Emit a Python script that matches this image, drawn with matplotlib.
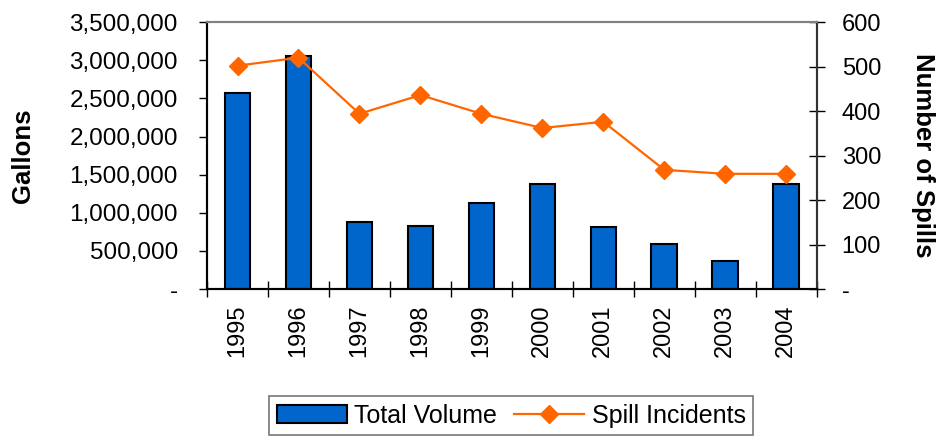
import matplotlib.pyplot as plt
import numpy as np
from matplotlib.ticker import FuncFormatter, MultipleLocator

plt.rcParams['font.family'] = ['Liberation Sans', 'DejaVu Sans']

years = ['1995', '1996', '1997', '1998', '1999', '2000', '2001', '2002', '2003', '2004']
total_volume = [2570000, 3060000, 885000, 833000, 1132000, 1372000, 810000, 587000, 372000, 1372000]
spill_incidents = [502, 520, 394, 436, 394, 362, 376, 268, 259, 259]

bar_color = '#0066CC'
line_color = '#FF6600'

fig = plt.figure(figsize=(9.38, 4.42), dpi=100)
ax = fig.add_axes([0.2207, 0.346, 0.650, 0.604])
x = np.arange(len(years))

bars = ax.bar(x, total_volume, width=0.42, color=bar_color, edgecolor='black',
              linewidth=1.5, label='Total Volume', zorder=2)
ax.set_xlim(-0.5, len(years) - 0.5)
ax.set_ylim(0, 3500000)
ax.yaxis.set_major_locator(MultipleLocator(500000))
ax.yaxis.set_major_formatter(FuncFormatter(lambda v, p: '-' if v == 0 else f'{int(v):,}'))
ax.set_xticks(x)
ax.set_xticklabels(years, rotation=90)
ax.set_xticks(np.arange(len(years) + 1) - 0.5, minor=True)
ax.tick_params(axis='x', which='major', length=0, pad=11, labelsize=17)
ax.tick_params(axis='x', which='minor', length=12, direction='inout', width=1)
ax.tick_params(axis='y', labelsize=17.5, length=6, direction='out', width=1, pad=15)
ax.set_ylabel('Gallons', fontsize=18.5, fontweight='bold')
ax.yaxis.set_label_coords(-0.282, 0.5)

ax2 = ax.twinx()
line, = ax2.plot(x, spill_incidents, color=line_color, linewidth=1.6, marker='D',
                 markersize=9, label='Spill Incidents', zorder=3)
ax2.set_ylim(0, 600)
ax2.yaxis.set_major_locator(MultipleLocator(100))
ax2.yaxis.set_major_formatter(FuncFormatter(lambda v, p: '-' if v == 0 else f'{int(v)}'))
ax2.tick_params(axis='y', labelsize=17, length=12, direction='inout', width=1, pad=12)
ax2.set_ylabel('Number of Spills', fontsize=18.5, fontweight='bold', rotation=-90, va='center')
ax2.yaxis.set_label_coords(1.174, 0.5)

for a in (ax, ax2):
    a.spines['top'].set_color('#808080')
    a.spines['top'].set_linewidth(1.5)
    a.spines['left'].set_linewidth(1.5)
    a.spines['right'].set_linewidth(1.5)
    a.spines['bottom'].set_linewidth(1.5)
    a.spines['right'].set_color('#333333')

leg = fig.legend([bars, line], ['Total Volume', 'Spill Incidents'], loc='center',
                 bbox_to_anchor=(0.545, 0.059), ncol=2, fontsize=18, frameon=True,
                 fancybox=False, edgecolor='#555555', handlelength=2.8,
                 handletextpad=0.3, columnspacing=0.7, borderpad=0.3)
leg.get_frame().set_linewidth(1.2)

fig.savefig('out.png', dpi=100)
